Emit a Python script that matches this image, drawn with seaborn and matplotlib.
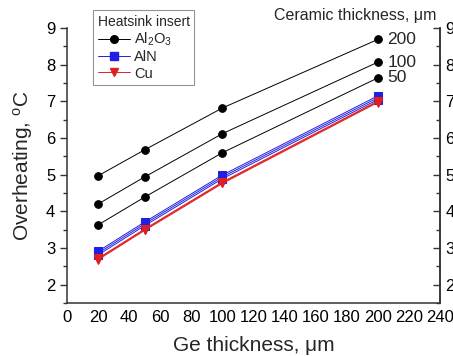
import numpy as np
import pandas as pd
import matplotlib
matplotlib.use('Agg')
import matplotlib.pyplot as plt
from matplotlib.ticker import MultipleLocator
from matplotlib.lines import Line2D
import seaborn as sns

# Ge thickness, um
ge_thickness = [20, 50, 100, 200]

# Al2O3 insert, one series per ceramic thickness
al2o3_200 = [4.97, 5.68, 6.82, 8.69]
al2o3_100 = [4.20, 4.94, 6.12, 8.07]
al2o3_50 = [3.63, 4.39, 5.60, 7.64]

# AlN insert
aln_200 = [2.91, 3.71, 4.99, 7.15]
aln_100 = [2.86, 3.66, 4.94, 7.10]
aln_50 = [2.81, 3.61, 4.89, 7.05]

# Cu insert
cu_200 = [2.72, 3.52, 4.80, 7.01]
cu_100 = [2.70, 3.50, 4.78, 6.99]
cu_50 = [2.68, 3.48, 4.76, 6.97]

ceramic_labels = ['200', '100', '50']

sns.set_style('white')
plt.rcParams['font.family'] = ['Liberation Sans', 'DejaVu Sans']
plt.rcParams['mathtext.fontset'] = 'custom'
plt.rcParams['mathtext.rm'] = 'Liberation Sans'
plt.rcParams['mathtext.it'] = 'Liberation Sans:italic'

fig, ax = plt.subplots(figsize=(4.53, 3.56), dpi=100)
fig.subplots_adjust(left=0.148, right=0.971, top=0.921, bottom=0.149)

series = [
    (al2o3_200, 'black', 'o', 5.5), (al2o3_100, 'black', 'o', 5.5), (al2o3_50, 'black', 'o', 5.5),
    (aln_200, '#2020e0', 's', 5.5), (aln_100, '#2020e0', 's', 5.5), (aln_50, '#2020e0', 's', 5.5),
    (cu_200, '#e02020', 'v', 6), (cu_100, '#e02020', 'v', 6), (cu_50, '#e02020', 'v', 6),
]
for vals, color, marker, ms in series:
    sns.lineplot(x=ge_thickness, y=vals, color=color, marker=marker, markersize=ms,
                 markeredgecolor=color, linewidth=0.7, ax=ax)

ax.set_xlim(0, 240)
ax.set_ylim(1.5, 9)
ax.xaxis.set_major_locator(MultipleLocator(20))
ax.xaxis.set_minor_locator(MultipleLocator(10))
ax.yaxis.set_minor_locator(MultipleLocator(0.5))
ax.set_yticks(range(2, 10))

ax.tick_params(axis='x', which='both', direction='in', labelsize=12, pad=5, colors='#333333', labelcolor='black')
ax.tick_params(axis='x', which='major', length=5, width=1)
ax.tick_params(axis='x', which='minor', length=3, width=1)
ax.tick_params(axis='y', which='both', direction='out', labelsize=12, colors='#333333', labelcolor='black')
ax.tick_params(axis='y', which='major', length=5, width=1)
ax.tick_params(axis='y', which='minor', length=3, width=1)

for side in ['left', 'bottom', 'right']:
    ax.spines[side].set_color('#333333')
    ax.spines[side].set_linewidth(1.1)
ax.spines['top'].set_visible(False)

# mirrored right axis (labels run off the edge as in the source figure)
ax2 = ax.twinx()
ax2.set_ylim(1.5, 9)
ax2.set_yticks(range(2, 10))
ax2.yaxis.set_minor_locator(MultipleLocator(0.5))
ax2.tick_params(axis='y', which='both', direction='in', labelsize=12, pad=4,
                colors='#333333', labelcolor='black')
ax2.tick_params(axis='y', which='major', length=5, width=1)
ax2.tick_params(axis='y', which='minor', length=3, width=1)
for side in ['left', 'bottom', 'top']:
    ax2.spines[side].set_visible(False)
ax2.spines['right'].set_color('#333333')
ax2.spines['right'].set_linewidth(1.1)

ax.set_xlabel('Ge thickness, μm', fontsize=15, labelpad=8)
ax.set_ylabel('Overheating, $^{\\rm o}$C', fontsize=15, labelpad=8)

for vals, lab in zip([al2o3_200, al2o3_100, al2o3_50], ceramic_labels):
    ax.annotate(lab, xy=(ge_thickness[-1], vals[-1]), xytext=(7, 0),
                textcoords='offset points', fontsize=12.5, va='center', ha='left')
ax.text(0.99, 1.02, 'Ceramic thickness, μm', transform=ax.transAxes,
        fontsize=11.5, ha='right', va='bottom')

handles = [
    Line2D([], [], color='black', marker='o', markersize=5.5, linewidth=0.7),
    Line2D([], [], color='#2020e0', marker='s', markersize=5.5, linewidth=0.7),
    Line2D([], [], color='#e02020', marker='v', markersize=6, linewidth=0.7),
]
leg = ax.legend(handles, ['Al$_2$O$_3$', 'AlN', 'Cu'], title='Heatsink insert',
                loc='upper left', bbox_to_anchor=(0.07, 1.065), fontsize=10.5,
                title_fontsize=10, frameon=True, fancybox=False,
                edgecolor='#777777', handlelength=2.2, handletextpad=0.3,
                borderpad=0.3, labelspacing=0.15, borderaxespad=0)
leg._legend_box.align = 'left'
leg.get_frame().set_linewidth(0.8)

plt.savefig('out.png', dpi=100)
